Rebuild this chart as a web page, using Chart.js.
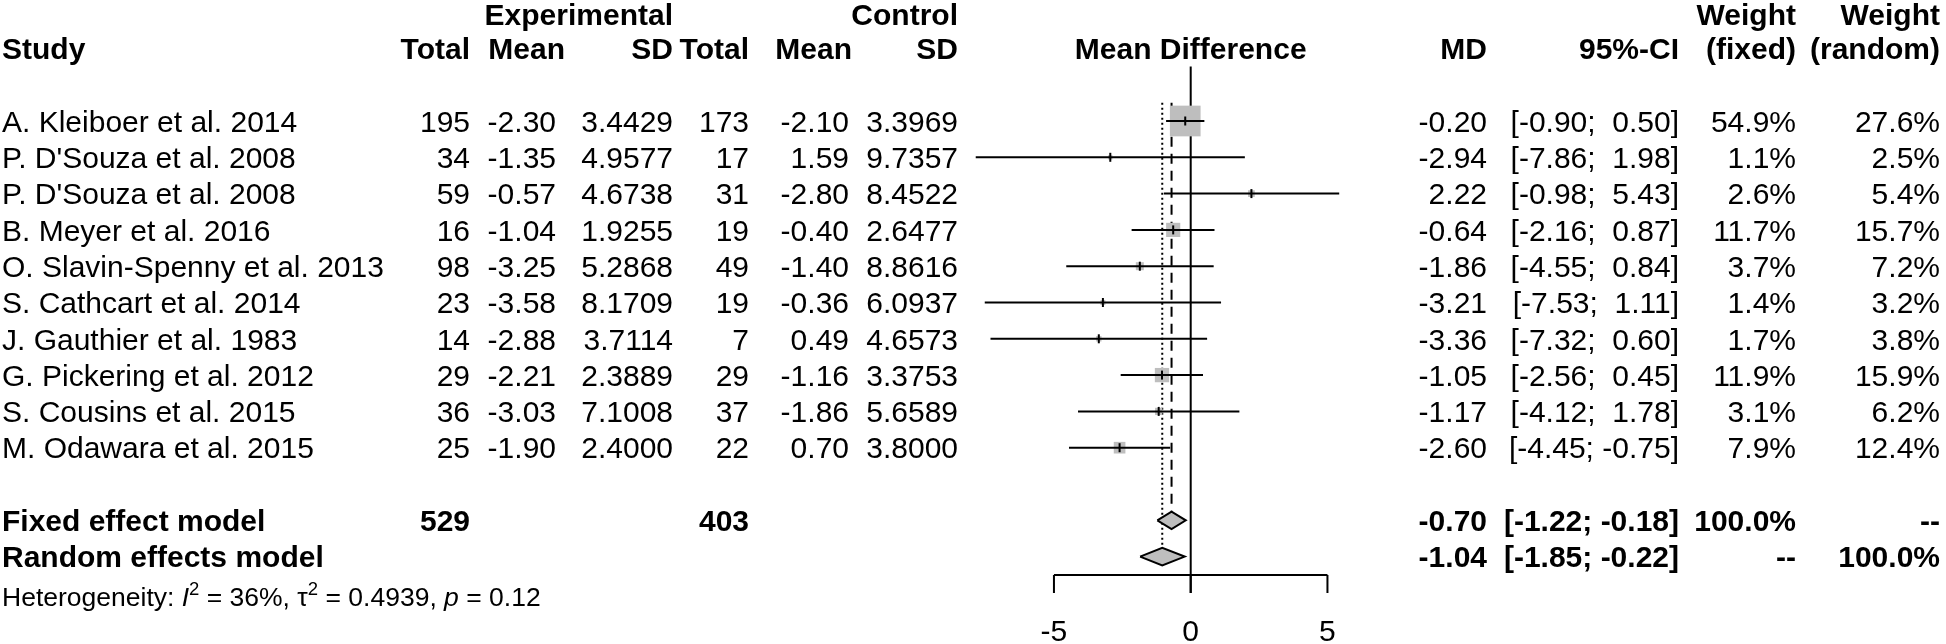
<!DOCTYPE html>
<html>
<head>
<meta charset="utf-8">
<script src="https://cdn.jsdelivr.net/npm/chart.js@4.4.0/dist/chart.umd.min.js"></script>
<style>
  html, body { margin: 0; padding: 0; background: #fff; overflow: hidden; }
  canvas { display: block; }
</style>
</head>
<body>
<canvas id="forest" width="1946" height="644"></canvas>
<script>
'use strict';
// study rows
const studies = ['A. Kleiboer et al. 2014', 'P. D\'Souza et al. 2008', 'P. D\'Souza et al. 2008',
  'B. Meyer et al. 2016', 'O. Slavin-Spenny et al. 2013', 'S. Cathcart et al. 2014',
  'J. Gauthier et al. 1983', 'G. Pickering et al. 2012', 'S. Cousins et al. 2015',
  'M. Odawara et al. 2015'];
const expTotal = [195, 34, 59, 16, 98, 23, 14, 29, 36, 25];
const expMean = [-2.30, -1.35, -0.57, -1.04, -3.25, -3.58, -2.88, -2.21, -3.03, -1.90];
const expSD = [3.4429, 4.9577, 4.6738, 1.9255, 5.2868, 8.1709, 3.7114, 2.3889, 7.1008, 2.4000];
const ctrlTotal = [173, 17, 31, 19, 49, 19, 7, 29, 37, 22];
const ctrlMean = [-2.10, 1.59, -2.80, -0.40, -1.40, -0.36, 0.49, -1.16, -1.86, 0.70];
const ctrlSD = [3.3969, 9.7357, 8.4522, 2.6477, 8.8616, 6.0937, 4.6573, 3.3753, 5.6589, 3.8000];
const md = [-0.20, -2.94, 2.22, -0.64, -1.86, -3.21, -3.36, -1.05, -1.17, -2.60];
const ciLow = [-0.90, -7.86, -0.98, -2.16, -4.55, -7.53, -7.32, -2.56, -4.12, -4.45];
const ciHigh = [0.50, 1.98, 5.43, 0.87, 0.84, 1.11, 0.60, 0.45, 1.78, -0.75];
const wFixed = [54.9, 1.1, 2.6, 11.7, 3.7, 1.4, 1.7, 11.9, 3.1, 7.9];
const wRandom = [27.6, 2.5, 5.4, 15.7, 7.2, 3.2, 3.8, 15.9, 6.2, 12.4];

// pooled rows
const pooledLabels = ['Fixed effect model', 'Random effects model'];
const pooledMD = [-0.70, -1.04];
const pooledLow = [-1.22, -1.85];
const pooledHigh = [-0.18, -0.22];
const pooledWFixed = ['100.0%', '--'];
const pooledWRandom = ['--', '100.0%'];
const totalExp = 529;
const totalCtrl = 403;

const hetI2 = 36;
const hetTau2 = 0.4939;
const hetP = 0.12;

const axisTicks = [-5, 0, 5];

// layout (rows on y, pixel columns for the text table)
const fixedRow = 11, randomRow = 12, hetRow = 13.1;
const axisRow = 12.507, tickEndRow = 13.0, tickLabelRow = 14.02;
const diamondHalf = 0.24;
const COL = {study: 2, expTotal: 470, expMean: 556, expMeanHead: 565, expSD: 673,
  ctrlTotal: 749, ctrlMean: 849, ctrlMeanHead: 852, ctrlSD: 958,
  md: 1487, ci: 1679, wFixed: 1796, wRandom: 1940};
const FONT = '"Liberation Sans", Arial, Helvetica, sans-serif';
const GRAY = '#bebebe';

function f2(v) { return v.toFixed(2); }
function padNum(v) { return (v < 0 ? '' : ' ') + f2(v); }
function ciText(lo, hi) { return '[' + padNum(lo) + '; ' + padNum(hi) + ']'; }

function seg(x1, y1, x2, y2) { return [{x: x1, y: y1}, {x: x2, y: y2}]; }

let datasets = [];
// zero line
datasets.push({data: seg(0, -1.5, 0, tickEndRow), showLine: true, borderColor: '#000', borderWidth: 2, pointRadius: 0, order: 10});
// axis
datasets.push({data: seg(axisTicks[0], axisRow, axisTicks[axisTicks.length - 1], axisRow), showLine: true, borderColor: '#000', borderWidth: 2, pointRadius: 0, order: 10});
for (let t of axisTicks) {
  datasets.push({data: seg(t, axisRow, t, tickEndRow), showLine: true, borderColor: '#000', borderWidth: 2, pointRadius: 0, order: 10});
}
// fixed (dashed) and random (dotted) reference lines
datasets.push({data: seg(pooledMD[0], -0.5, pooledMD[0], fixedRow - diamondHalf), showLine: true, borderColor: '#000', borderWidth: 2, borderDash: [10, 7], pointRadius: 0, order: 9});
datasets.push({data: seg(pooledMD[1], -0.5, pooledMD[1], randomRow - diamondHalf), showLine: true, borderColor: '#000', borderWidth: 2, borderDash: [2, 3], pointRadius: 0, order: 9});
// squares, area proportional to fixed weight
let maxW = Math.max(...wFixed);
datasets.push({
  data: md.map((v, i) => ({x: v, y: i})),
  pointStyle: 'rect',
  pointRadius: wFixed.map(w => 30.7 * Math.sqrt(w / maxW) / Math.SQRT2),
  backgroundColor: GRAY,
  borderWidth: 0,
  order: 6
});
// confidence intervals
for (let i = 0; i < md.length; i++) {
  datasets.push({data: seg(ciLow[i], i, ciHigh[i], i), showLine: true, borderColor: '#000', borderWidth: 2, pointRadius: 0, order: 4});
}
// estimate ticks
datasets.push({
  data: md.map((v, i) => ({x: v, y: i})),
  pointStyle: 'line', rotation: 90, pointRadius: 4.5,
  borderColor: '#000', borderWidth: 2, order: 3
});
// diamonds
for (let k = 0; k < pooledMD.length; k++) {
  let r = k === 0 ? fixedRow : randomRow;
  datasets.push({
    data: [{x: pooledLow[k], y: r}, {x: pooledMD[k], y: r - diamondHalf}, {x: pooledHigh[k], y: r},
      {x: pooledMD[k], y: r + diamondHalf}, {x: pooledLow[k], y: r}],
    showLine: true, fill: 'shape', backgroundColor: GRAY, borderColor: '#000', borderWidth: 2,
    pointRadius: 0, order: 2
  });
}

const tablePlugin = {
  id: 'forestTable',
  afterDraw(chart) {
    const ctx = chart.ctx;
    const ys = chart.scales.y;
    const xs = chart.scales.x;
    ctx.save();
    ctx.fillStyle = '#000';
    function put(str, px, row, align, bold, size) {
      size = size || 30;
      ctx.font = (bold ? 'bold ' : '') + size + 'px ' + FONT;
      ctx.textAlign = align;
      ctx.textBaseline = 'alphabetic';
      ctx.fillText(str, px, ys.getPixelForValue(row) + size * 0.716 / 2);
    }
    // headers
    put('Experimental', COL.expSD, -2.95, 'right', true);
    put('Control', COL.ctrlSD, -2.95, 'right', true);
    put('Weight', COL.wFixed, -2.95, 'right', true);
    put('Weight', COL.wRandom, -2.95, 'right', true);
    put('Study', COL.study, -2, 'left', true);
    put('Total', COL.expTotal, -2, 'right', true);
    put('Mean', COL.expMeanHead, -2, 'right', true);
    put('SD', COL.expSD, -2, 'right', true);
    put('Total', COL.ctrlTotal, -2, 'right', true);
    put('Mean', COL.ctrlMeanHead, -2, 'right', true);
    put('SD', COL.ctrlSD, -2, 'right', true);
    put('Mean Difference', xs.getPixelForValue(0), -2, 'center', true);
    put('MD', COL.md, -2, 'right', true);
    put('95%-CI', COL.ci, -2, 'right', true);
    put('(fixed)', COL.wFixed, -2, 'right', true);
    put('(random)', COL.wRandom, -2, 'right', true);
    // studies
    for (let i = 0; i < studies.length; i++) {
      put(studies[i], COL.study, i, 'left', false);
      put(String(expTotal[i]), COL.expTotal, i, 'right', false);
      put(f2(expMean[i]), COL.expMean, i, 'right', false);
      put(expSD[i].toFixed(4), COL.expSD, i, 'right', false);
      put(String(ctrlTotal[i]), COL.ctrlTotal, i, 'right', false);
      put(f2(ctrlMean[i]), COL.ctrlMean, i, 'right', false);
      put(ctrlSD[i].toFixed(4), COL.ctrlSD, i, 'right', false);
      put(f2(md[i]), COL.md, i, 'right', false);
      put(ciText(ciLow[i], ciHigh[i]), COL.ci, i, 'right', false);
      put(wFixed[i].toFixed(1) + '%', COL.wFixed, i, 'right', false);
      put(wRandom[i].toFixed(1) + '%', COL.wRandom, i, 'right', false);
    }
    // pooled
    for (let k = 0; k < pooledLabels.length; k++) {
      let r = k === 0 ? fixedRow : randomRow;
      put(pooledLabels[k], COL.study, r, 'left', true);
      put(f2(pooledMD[k]), COL.md, r, 'right', true);
      put(ciText(pooledLow[k], pooledHigh[k]), COL.ci, r, 'right', true);
      put(pooledWFixed[k], COL.wFixed, r, 'right', true);
      put(pooledWRandom[k], COL.wRandom, r, 'right', true);
    }
    put(String(totalExp), COL.expTotal, fixedRow, 'right', true);
    put(String(totalCtrl), COL.ctrlTotal, fixedRow, 'right', true);
    // heterogeneity line
    const hs = 26.5;
    const base = ys.getPixelForValue(hetRow) + hs * 0.716 / 2;
    const parts = [
      {t: 'Heterogeneity: '}, {t: 'I', it: true}, {t: '2', sup: true},
      {t: ' = ' + hetI2 + '%, '}, {t: '\u03c4'}, {t: '2', sup: true},
      {t: ' = ' + hetTau2.toFixed(4) + ', '}, {t: 'p', it: true}, {t: ' = ' + hetP.toFixed(2)}
    ];
    let cx = COL.study;
    ctx.textAlign = 'left';
    for (let p of parts) {
      let size = p.sup ? hs * 0.7 : hs;
      ctx.font = (p.it ? 'italic ' : '') + size + 'px ' + FONT;
      ctx.fillText(p.t, cx, p.sup ? base - hs * 0.42 : base);
      cx += ctx.measureText(p.t).width;
    }
    // axis tick labels
    for (let t of axisTicks) {
      put(String(t), xs.getPixelForValue(t), tickLabelRow, 'center', false);
    }
    ctx.restore();
  }
};

new Chart(document.getElementById('forest'), {
  type: 'scatter',
  data: {datasets: datasets},
  options: {
    responsive: false,
    devicePixelRatio: 1,
    animation: false,
    events: [],
    layout: {padding: 0, autoPadding: false},
    plugins: {legend: {display: false}, tooltip: {enabled: false}},
    scales: {
      x: {type: 'linear', display: false, bounds: 'data', min: -1190.7 / 27.35, max: (1946 - 1190.7) / 27.35},
      y: {type: 'linear', display: false, bounds: 'data', reverse: true, min: -121 / 36.3, max: (644 - 121) / 36.3}
    }
  },
  plugins: [tablePlugin]
});
</script>
</body>
</html>
